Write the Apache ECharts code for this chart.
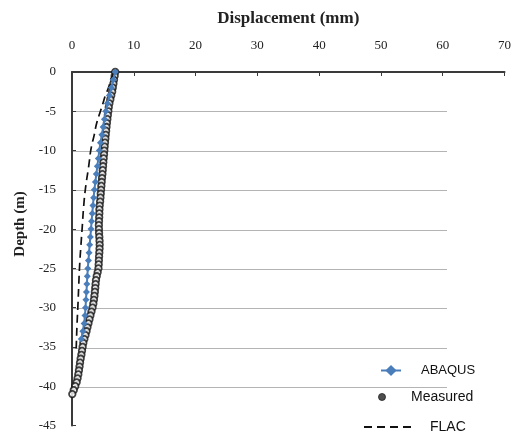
<!DOCTYPE html>
<html>
<head>
<meta charset="utf-8">
<script src="https://cdn.jsdelivr.net/npm/echarts@6/dist/echarts.min.js"></script>
<style>html,body{margin:0;padding:0;background:#fff;}#c{width:514px;height:432px;}</style>
</head>
<body>
<div id="c"></div>
<script>
// Measured displacement (mm) vs depth (m)
const measuredDepth = [0,-0.5,-1,-1.5,-2,-2.5,-3,-3.5,-4,-4.5,-5,-5.5,-6,-6.5,-7,-7.5,-8,-8.5,-9,-9.5,-10,-10.5,-11,-11.5,-12,-12.5,-13,-13.5,-14,-14.5,-15,-15.5,-16,-16.5,-17,-17.5,-18,-18.5,-19,-19.5,-20,-20.5,-21,-21.5,-22,-22.5,-23,-23.5,-24,-24.5,-25,-25.5,-26,-26.5,-27,-27.5,-28,-28.5,-29,-29.5,-30,-30.5,-31,-31.5,-32,-32.5,-33,-33.5,-34,-34.5,-35,-35.5,-36,-36.5,-37,-37.5,-38,-38.5,-39,-39.5,-40,-40.5,-41];
const measuredDisp = [7.0,6.9,6.8,6.7,6.6,6.5,6.35,6.2,6.05,5.95,5.88,5.8,5.72,5.65,5.58,5.52,5.46,5.4,5.34,5.28,5.23,5.18,5.12,5.07,5.02,4.97,4.92,4.86,4.8,4.75,4.7,4.65,4.6,4.55,4.48,4.44,4.42,4.4,4.37,4.35,4.36,4.38,4.42,4.46,4.48,4.46,4.42,4.38,4.35,4.32,4.28,4.15,4.0,3.88,3.82,3.76,3.7,3.63,3.55,3.45,3.32,3.15,2.98,2.82,2.66,2.5,2.35,2.18,2.0,1.83,1.72,1.62,1.52,1.4,1.3,1.22,1.12,1.02,0.9,0.75,0.52,0.28,0.05];

// ABAQUS
const abaqusDepth = [0,-1,-2,-3,-4,-5,-6,-7,-8,-9,-10,-11,-12,-13,-14,-15,-16,-17,-18,-19,-20,-21,-22,-23,-24,-25,-26,-27,-28,-29,-30,-31,-32,-33,-34];
const abaqusDisp = [7.0,6.68,6.36,6.05,5.74,5.47,5.25,5.04,4.84,4.6,4.42,4.26,4.1,3.94,3.78,3.62,3.5,3.39,3.28,3.17,3.08,2.97,2.86,2.76,2.66,2.56,2.48,2.41,2.34,2.26,2.19,2.1,1.96,1.75,1.5];

// FLAC
const flacDepth = [0,-1,-2,-3,-4,-5,-6.5,-8,-9.7,-12,-14.7,-17,-19.7,-22,-24.7,-27,-29.7,-32,-34.7,-35.2];
const flacDisp = [6.8,6.3,5.9,5.4,5.0,4.6,4.0,3.6,3.1,2.7,2.2,1.9,1.66,1.45,1.23,1.1,0.96,0.82,0.7,0.68];

const pairs = (xs, ys) => xs.map((v, i) => [v, ys[i]]);

const serif = '"Liberation Serif", "DejaVu Serif", serif';
const sans = '"Liberation Sans", Arial, sans-serif';
const axisColor = '#3a3a3a';

const chart = echarts.init(document.getElementById('c'), null, {renderer: 'canvas'});
chart.setOption({
  animation: false,
  backgroundColor: '#fff',
  grid: [
    {left: 72, right: 8, top: 72, bottom: 5},
    {left: 72, right: 67, top: 72, bottom: 5}
  ],
  xAxis: [
    {
      type: 'value', gridIndex: 0, position: 'top', min: 0, max: 70, interval: 10,
      name: 'Displacement (mm)', nameLocation: 'middle', nameGap: 45,
      nameTextStyle: {fontFamily: serif, fontWeight: 'bold', fontSize: 17, color: '#222'},
      axisLine: {show: true, lineStyle: {color: axisColor, width: 2}},
      axisTick: {show: true, inside: true, length: 4, lineStyle: {color: axisColor, width: 1}},
      axisLabel: {margin: 20, fontFamily: serif, fontSize: 13, color: '#222'},
      splitLine: {show: false}
    },
    {type: 'value', gridIndex: 1, min: 0, max: 1, show: false}
  ],
  yAxis: [
    {
      type: 'value', gridIndex: 0, min: -45, max: 0, interval: 5,
      axisLine: {show: true, onZero: false, lineStyle: {color: axisColor, width: 2}},
      axisTick: {show: true, inside: true, length: 4, lineStyle: {color: axisColor, width: 1}},
      axisLabel: {margin: 16, fontFamily: serif, fontSize: 13, color: '#222'},
      splitLine: {show: false}
    },
    {
      type: 'value', gridIndex: 1, min: -45, max: 0, interval: 5,
      axisLine: {show: false}, axisTick: {show: false}, axisLabel: {show: false},
      splitLine: {show: true, showMinLine: false, showMaxLine: false, lineStyle: {color: '#b4b4b4', width: 1}}
    }
  ],
  legend: [
    {
      data: ['ABAQUS'], left: 380, top: 364, padding: 0, itemWidth: 20, itemHeight: 14,
      textStyle: {fontFamily: sans, fontSize: 13, color: '#111', padding: [0, 0, 0, 15]}
    },
    {
      data: [{name: 'Measured', itemStyle: {color: '#222', borderColor: '#222', borderWidth: 1}}],
      left: 378, top: 390, padding: 0, itemWidth: 20, itemHeight: 7,
      textStyle: {fontFamily: sans, fontSize: 14, color: '#111', padding: [0, 0, 0, 14]}
    },
    {
      data: [{name: 'FLAC', itemStyle: {opacity: 0}}], left: 363, top: 420, padding: 0, itemWidth: 50, itemHeight: 14,
      textStyle: {fontFamily: sans, fontSize: 14, color: '#111', padding: [0, 0, 0, 11]}
    }
  ],
  graphic: [{
    type: 'text', x: 20, y: 224, rotation: Math.PI / 2,
    style: {text: 'Depth (m)', align: 'center', verticalAlign: 'middle',
      font: 'bold 15px ' + serif, fill: '#222'}
  }],
  series: [
    {
      name: 'Measured', type: 'scatter', xAxisIndex: 0, yAxisIndex: 0,
      data: pairs(measuredDisp, measuredDepth),
      symbol: 'circle', symbolSize: 6.5,
      itemStyle: {color: '#fff', borderColor: '#111', borderWidth: 1.8},
      z: 2
    },
    {
      name: 'FLAC', type: 'line', xAxisIndex: 0, yAxisIndex: 0,
      data: pairs(flacDisp, flacDepth), smooth: true, symbol: 'none',
      lineStyle: {color: '#111', width: 1.7, type: [8, 5]},
      itemStyle: {color: '#111'},
      z: 3
    },
    {
      name: 'ABAQUS', type: 'line', xAxisIndex: 0, yAxisIndex: 0,
      data: pairs(abaqusDisp, abaqusDepth),
      symbol: 'diamond', symbolSize: 7,
      lineStyle: {color: '#4a7ebb', width: 2},
      itemStyle: {color: '#4a7ebb'},
      z: 4
    }
  ]
});
</script>
</body>
</html>
